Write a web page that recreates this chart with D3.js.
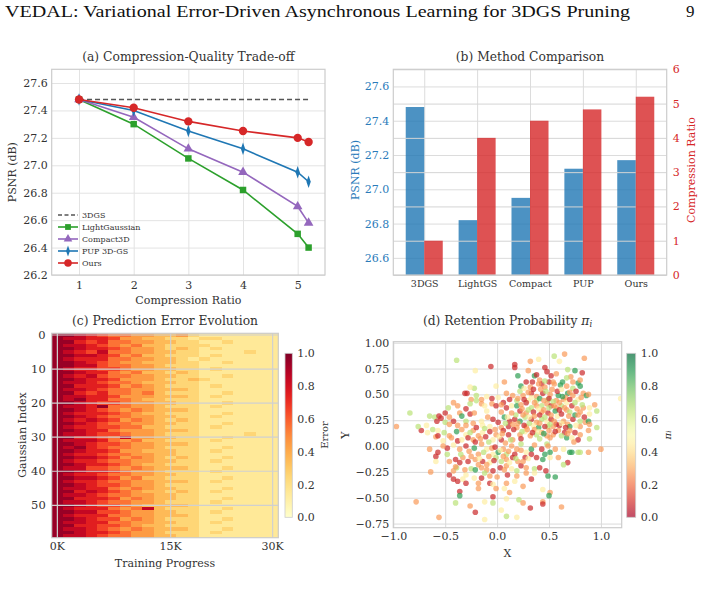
<!DOCTYPE html>
<html>
<head>
<meta charset="utf-8">
<script src="https://d3js.org/d3.v7.min.js"></script>
<title>VEDAL figure</title>
<style>
body { margin: 0; background: #fff; }
</style>
</head>
<body>
<div class="viz"></div>
<script type="text/javascript">
// ---- (a) compression-quality trade-off
var ratios = [1, 2, 3, 4, 5, 5.2];
var psnr3dgs = 27.48;
var psnrLight = [27.48, 27.30, 27.05, 26.82, 26.50, 26.40];
var psnrCompact = [27.48, 27.35, 27.12, 26.95, 26.70, 26.58];
var psnrPup = [27.48, 27.40, 27.25, 27.12, 26.95, 26.88];
var psnrOurs = [27.48, 27.42, 27.32, 27.25, 27.20, 27.17];
var aYTicks = [26.2, 26.4, 26.6, 26.8, 27.0, 27.2, 27.4, 27.6];
var aXTicks = [1, 2, 3, 4, 5];

// ---- (b) method comparison
var methods = ["3DGS", "LightGS", "Compact", "PUP", "Ours"];
var methodPsnr = [27.48, 26.82, 26.95, 27.12, 27.17];
var methodRatio = [1.0, 4.0, 4.5, 4.83, 5.2];
var bLeftTicks = [26.6, 26.8, 27.0, 27.2, 27.4, 27.6];
var bRightTicks = [0, 1, 2, 3, 4, 5, 6];

// ---- (c) prediction error, 60 gaussians x 20 steps, digit d -> (d+0.5)/10
var errorRows = [
"99876554433421111111","98877644332212211111","99767554433221121111","98876545332222111111",
"99877654432321211111","98768554433221111211","99887645332221211111","98777554433212111111",
"99876544333221121111","99886554432221111111","98776654433221211111","99877545332321111111",
"98786554433221121111","99877644432232111111","98876554333221111111","99777645432221211111",
"98876554433321111111","99767554532221121111","98877644433321211111","98977554332221111111",
"99876654433221121111","98879554432221211111","99876545433321111111","98777654332221121111",
"99876554433221211111","98787645432321111111","99876554433221121111","98776655332221211111",
"99877544433321111111","98876654432221111211","99776584433221121111","98887545332221211111",
"99876654433321111111","98976554432221121111","99877644333221211111","98776554433221111111",
"99887645432321121111","98776554433221211111","99877654332221111111","98866545433321121111",
"99877654432221211111","98776554433221111111","99887645332221121111","98776554433321211111",
"99876654432221111111","98877545433221121111","99787654332321211111","98876554433221111111",
"99777645433221121111","98876554432221211111","99876654333321111111","98777545832221121111",
"99886654433221211111","98777554433321111111","99876645432221121111","98877554433221211111",
"99776654332221111111","98876545433321121111","99877654432221211111","98876554433221111111"
];
var cXTickCols = [0, 10, 19];
var cXTickLabels = ["0K", "15K", "30K"];
var cYTicks = [0, 10, 20, 30, 40, 50];
var cbTicks = [0, 0.2, 0.4, 0.6, 0.8, 1.0];

// ---- (d) retention probability: [x, y, pi]
var retention = [
[-0.39,0.83,.66],[-0.21,0.73,.45],[-0.06,0.77,.08],[0.17,0.79,.08],[0.17,0.76,.08],[0.32,0.82,.27],
[0.40,0.84,.45],[0.55,0.87,.66],[0.60,0.82,.45],[0.65,0.89,.27],[0.84,0.85,.27],[0.46,0.76,.08],
[0.30,0.73,.27],[0.68,0.74,.66],[0.48,0.72,.08],[0.75,0.73,.88],
[0.20,0.68,.88],[0.36,0.68,.88],[0.38,0.69,.08],[0.52,0.68,.08],[0.57,0.70,.27],[0.82,0.71,.08],
[0.71,0.67,.27],[0.41,0.64,.27],[0.23,0.58,.88],[-0.01,0.58,.45],[0.07,0.62,.27],[0.32,0.57,.27],
[0.43,0.60,.08],[0.50,0.62,.08],[0.61,0.59,.88],[0.67,0.58,.27],[0.78,0.61,.88],[0.80,0.58,.88],
[0.80,0.64,.27],[0.67,0.66,.66],[0.54,0.62,.27],[0.28,0.62,.08],[0.46,0.57,.27],[0.73,0.56,.66],
[-0.22,0.56,.66],[-0.29,0.51,.08],[-0.31,0.51,.08],[-0.26,0.57,.45],[-0.20,0.49,.66],[-0.10,0.48,.45],
[-0.05,0.46,.08],[0.01,0.47,.45],[0.09,0.51,.27],[0.15,0.49,.27],[0.19,0.44,.66],[0.25,0.49,.27],
[0.33,0.51,.08],[0.38,0.48,.27],[0.44,0.51,.08],[0.51,0.50,.27],[0.59,0.49,.88],[0.68,0.51,.88],
[0.73,0.49,.27],[0.83,0.51,.27],[0.86,0.49,.88],[0.88,0.50,.27],[1.19,0.46,.45],[0.12,0.45,.08],
[0.22,0.53,.66],[0.49,0.45,.66],[0.64,0.45,.27],[0.57,0.44,.27],[0.78,0.45,.45],[0.38,0.44,.66],
[0.30,0.44,.45],[0.06,0.42,.08],[-0.15,0.45,.27],[-0.25,0.45,.27],[-0.20,0.44,.66],
[-0.50,0.32,.08],[-0.47,0.37,.66],[-0.42,0.42,.27],[-0.38,0.39,.27],[-0.30,0.36,.08],[-0.26,0.41,.66],
[-0.15,0.41,.27],[-0.12,0.39,.45],[-0.05,0.41,.27],[-0.01,0.39,.08],[0.04,0.40,.27],[0.09,0.37,.08],
[0.14,0.39,.45],[0.19,0.39,.88],[0.23,0.40,.27],[0.28,0.42,.08],[0.33,0.37,.66],[0.38,0.39,.27],
[0.43,0.39,.66],[0.48,0.41,.27],[0.52,0.39,.08],[0.57,0.37,.27],[0.62,0.39,.66],[0.67,0.42,.45],
[0.72,0.39,.08],[0.77,0.36,.27],[0.83,0.37,.27],[0.89,0.37,.45],[0.94,0.40,.27],[0.96,0.34,.66],
[-0.84,0.32,.66],[-0.60,0.28,.66],[-0.36,0.32,.27],[-0.26,0.31,.08],[-0.22,0.32,.27],[-0.10,0.34,.45],
[0.04,0.33,.27],[0.22,0.34,.08],[0.28,0.32,.27],[0.43,0.33,.27],[0.49,0.32,.08],[0.56,0.34,.88],
[0.67,0.35,.27],[0.80,0.33,.27],[0.89,0.31,.45],
[-0.97,0.19,.27],[-0.73,0.15,.08],[-0.68,0.20,.45],[-0.58,0.24,.08],[-0.54,0.27,.08],[-0.46,0.28,.27],
[-0.42,0.24,.08],[-0.34,0.29,.88],[-0.30,0.24,.66],[-0.23,0.22,.27],[-0.15,0.24,.45],[-0.09,0.28,.27],
[-0.04,0.26,.08],[0.01,0.23,.08],[0.07,0.28,.88],[0.12,0.24,.08],[0.17,0.26,.08],[0.22,0.24,.88],
[0.27,0.28,.66],[0.33,0.26,.08],[0.38,0.23,.27],[0.43,0.26,.66],[0.48,0.24,.45],[0.52,0.26,.08],
[0.57,0.21,.08],[0.64,0.24,.27],[0.68,0.21,.27],[0.73,0.26,.08],[0.80,0.24,.66],[0.85,0.23,.27],
[0.88,0.24,.88],[-0.65,0.29,.66],[-0.56,0.29,.08],[-0.50,0.23,.66],[-0.46,0.21,.27],[-0.38,0.20,.27],
[-0.14,0.20,.45],[-0.07,0.19,.45],[0.04,0.18,.27],[0.11,0.19,.08],[0.19,0.18,.27],[0.28,0.19,.27],
[0.35,0.20,.45],[0.40,0.18,.88],[0.49,0.19,.66],[0.54,0.19,.27],[0.60,0.20,.08],[0.70,0.19,.88],
[0.80,0.19,.27],[0.89,0.21,.27],
[-0.76,0.19,.66],[-0.67,0.13,.45],[-0.62,0.16,.66],[-0.57,0.15,.45],[-0.51,0.13,.66],[-0.46,0.10,.27],
[-0.39,0.14,.88],[-0.34,0.16,.27],[-0.30,0.11,.45],[-0.23,0.15,.27],[-0.18,0.10,.27],[-0.14,0.13,.45],
[-0.07,0.14,.08],[-0.01,0.11,.27],[0.06,0.15,.08],[0.11,0.11,.08],[0.16,0.16,.08],[0.22,0.11,.27],
[0.27,0.14,.45],[0.32,0.10,.27],[0.38,0.11,.66],[0.43,0.13,.27],[0.48,0.10,.27],[0.54,0.11,.27],
[0.59,0.15,.27],[0.65,0.13,.08],[0.70,0.15,.27],[0.75,0.13,.08],[0.80,0.11,.27],[0.88,0.15,.27],
[0.96,0.18,.66],[-0.28,0.08,.08],[-0.23,0.06,.27],[-0.38,0.05,.08],[-0.52,0.05,.45],[-0.59,0.09,.27],
[-0.04,0.06,.45],[0.04,0.06,.08],[0.15,0.06,.27],[0.23,0.07,.08],[0.41,0.07,.66],[0.51,0.08,.27],
[0.67,0.08,.88],[0.78,0.06,.08],[0.89,0.07,.66],[-0.57,0.10,.08],
[-0.65,-0.03,.27],[-0.57,-0.06,.08],[-0.48,-0.02,.08],[-0.42,0.01,.45],[-0.36,-0.03,.27],[-0.30,0.00,.08],
[-0.22,-0.02,.88],[-0.15,0.02,.27],[-0.10,-0.03,.45],[-0.05,-0.02,.27],[0.01,-0.06,.88],[0.06,-0.03,.27],
[0.09,-0.08,.66],[0.14,0.00,.27],[0.19,-0.03,.27],[0.23,0.02,.66],[0.33,-0.03,.88],[0.36,0.01,.27],
[0.43,-0.03,.08],[0.48,0.02,.66],[0.51,-0.06,.88],[0.56,-0.03,.27],[0.70,-0.06,.88],[0.78,-0.06,.66],
[0.88,-0.06,.27],[1.00,-0.03,.27],[0.49,0.00,.27],[0.64,-0.03,.45],[0.28,-0.06,.45],[-0.04,-0.08,.45],
[-0.18,-0.08,.27],
[-0.59,-0.10,.08],[-0.46,-0.15,.27],[-0.40,-0.13,.08],[-0.33,-0.11,.27],[-0.28,-0.15,.08],[-0.21,-0.13,.27],
[-0.14,-0.15,.08],[-0.07,-0.16,.45],[-0.01,-0.11,.66],[0.04,-0.15,.66],[0.09,-0.13,.27],[0.15,-0.11,.08],
[0.20,-0.15,.27],[0.27,-0.11,.08],[0.33,-0.08,.08],[0.38,-0.11,.08],[0.44,-0.13,.88],[0.51,-0.11,.45],
[0.59,-0.11,.27],[0.68,-0.16,.08],[0.72,-0.06,.88],[0.80,-0.06,.66],[0.64,-0.18,.66],[0.46,-0.08,.88],
[0.09,-0.19,.27],[-0.18,-0.18,.27],[-0.36,-0.16,.08],[-0.59,-0.15,.45],
[-0.64,-0.25,.27],[-0.46,-0.28,.08],[-0.42,-0.24,.27],[-0.39,-0.21,.66],[-0.31,-0.23,.27],[-0.25,-0.22,.66],
[-0.21,-0.23,.88],[-0.15,-0.21,.27],[-0.10,-0.23,.27],[-0.04,-0.24,.08],[0.03,-0.21,.08],[0.07,-0.23,.27],
[0.14,-0.22,.45],[0.19,-0.24,.66],[0.23,-0.19,.08],[0.28,-0.21,.27],[0.36,-0.22,.66],[0.41,-0.21,.08],
[0.47,-0.24,.08],[0.36,-0.26,.45],[0.28,-0.26,.27],[0.19,-0.29,.27],[-0.07,-0.29,.27],[-0.22,-0.31,.45],
[-0.42,-0.32,.08],[-0.38,-0.34,.08],[-0.33,-0.32,.45],[-0.30,-0.36,.08],[-0.18,-0.36,.27],[-0.15,-0.31,.08],
[-0.07,-0.36,.08],[-0.04,-0.37,.45],[0.09,-0.36,.27],[0.17,-0.34,.45],[0.25,-0.39,.27],[0.33,-0.32,.08],
[0.49,-0.29,.88],[0.56,-0.30,.88],[0.07,-0.41,.45],[-0.01,-0.41,.27],[-0.18,-0.41,.27],[-0.36,-0.44,.08],
[0.44,-0.42,.45],[0.51,-0.45,.27],
[-0.78,-0.54,.27],[-0.40,-0.55,.66],[-0.36,-0.48,.88],[-0.26,-0.58,.27],[-0.21,-0.64,.08],[-0.12,-0.54,.45],
[-0.04,-0.55,.66],[-0.04,-0.49,.08],[0.09,-0.51,.45],[0.12,-0.45,.27],[0.21,-0.52,.66],[0.25,-0.55,.27],
[0.32,-0.60,.08],[0.44,-0.54,.27],[0.44,-0.56,.08],[0.50,-0.48,.88],[0.62,-0.59,.27],[0.04,-0.62,.45],
[-0.56,-0.69,.27],[-0.12,-0.71,.45],[0.09,-0.68,.66],[0.19,-0.69,.45],
[0.30,0.52,.27],[0.35,0.55,.08],[0.42,0.55,.27],[0.47,0.53,.66],[0.53,0.55,.27],[0.58,0.53,.08],
[0.62,0.55,.45],[0.66,0.47,.27],[0.70,0.45,.08],[0.75,0.42,.66],[0.26,0.45,.08],[0.33,0.47,.45],
[0.36,0.42,.27],[0.41,0.46,.88],[0.45,0.44,.27],[0.50,0.46,.08],[0.54,0.43,.66],[0.60,0.42,.27],
[0.63,0.48,.88],[0.70,0.52,.27],[0.24,0.36,.27],[0.30,0.35,.66],[0.35,0.33,.08],[0.40,0.36,.45],
[0.45,0.35,.27],[0.50,0.37,.66],[0.55,0.39,.27],[0.60,0.35,.08],[0.65,0.37,.27],[0.70,0.33,.66],
[0.25,0.30,.27],[0.31,0.28,.45],[0.36,0.29,.27],[0.41,0.30,.08],[0.46,0.28,.66],[0.52,0.30,.27],
[0.58,0.29,.45],[0.62,0.31,.08],[0.69,0.29,.27],[0.75,0.30,.88],[0.20,0.22,.27],[0.26,0.20,.08],
[0.31,0.22,.66],[0.36,0.16,.27],[0.41,0.22,.27],[0.46,0.19,.08],[0.51,0.21,.66],[0.55,0.24,.27],
[0.62,0.22,.45],[0.66,0.18,.08],[0.24,0.14,.66],[0.29,0.16,.27],[0.34,0.13,.08],[0.40,0.14,.45],
[0.45,0.12,.88],[0.50,0.15,.27],[0.56,0.14,.08],[0.62,0.10,.66],[0.68,0.12,.27],[0.72,0.08,.45],
[0.18,0.30,.66],[0.14,0.32,.27],[0.10,0.28,.45],[0.15,0.21,.27],[0.08,0.22,.66],[0.20,0.46,.27],
[0.26,0.56,.45],[0.46,0.63,.66],[0.40,0.60,.27],[0.34,0.62,.08],[0.55,0.60,.27],[0.63,0.62,.88],
[0.73,0.62,.27],[0.76,0.53,.08],[0.81,0.47,.27],[0.82,0.40,.66],[0.78,0.30,.27],[0.84,0.28,.08],
[0.76,0.20,.45],[0.74,0.04,.27],
[-0.30,0.20,.27],[-0.26,0.13,.66],[-0.20,0.18,.08],[-0.16,0.07,.27],[-0.11,0.09,.08],[-0.08,0.04,.66],
[-0.02,0.16,.27],[0.02,0.09,.45],[0.08,0.03,.27],[0.13,0.06,.66],[-0.34,0.06,.45],[-0.27,-0.05,.27],
[-0.21,0.04,.08],[-0.13,-0.06,.66],[-0.08,-0.10,.27],[-0.02,-0.01,.08],[0.03,-0.04,.45],[0.11,-0.05,.27],
[0.17,-0.08,.08],[0.23,-0.04,.27],[-0.35,-0.08,.66],[-0.25,-0.10,.27],[-0.17,-0.12,.45],[-0.10,-0.18,.27],
[-0.03,-0.14,.08],[0.06,-0.10,.27],[0.12,-0.16,.45],[0.18,-0.12,.66],[0.25,-0.15,.27],[0.30,-0.12,.45],
[-0.44,0.08,.27],[-0.48,-0.08,.66],[-0.52,0.00,.27],[-0.40,-0.20,.27],[-0.30,-0.28,.45],[-0.12,-0.26,.66],
[0.00,-0.30,.27],[0.10,-0.28,.08],[0.05,0.12,.27],[-0.12,0.17,.66]
];
var dXTicks = [-1.0, -0.5, 0.0, 0.5, 1.0];
var dYTicks = [-0.75, -0.5, -0.25, 0, 0.25, 0.5, 0.75, 1.0];

var textCol = "#333";
var gridCol = "#e3e3e3";
var spineCol = "#cccccc";
var serif = "'DejaVu Serif', serif";

var svg = d3.select(".viz").append("svg")
    .attr("width", 702).attr("height", 600)
    .style("font-family", serif);

svg.append("text").attr("x", 5).attr("y", 17)
    .attr("textLength", 625).attr("lengthAdjust", "spacingAndGlyphs")
    .style("font-family", "'Liberation Serif', serif").style("font-size", "17px")
    .attr("fill", "#111")
    .text("VEDAL: Variational Error-Driven Asynchronous Learning for 3DGS Pruning");
svg.append("text").attr("x", 686).attr("y", 17)
    .style("font-family", "'Liberation Serif', serif").style("font-size", "17px")
    .attr("fill", "#111").text("9");

// helpers
function gridOnly(g, col) {
    g.select(".domain").remove();
    g.selectAll(".tick line").attr("stroke", col || gridCol).attr("stroke-width", 1);
    g.selectAll("text").remove();
}
function labelsOnly(g, col, size) {
    g.select(".domain").remove();
    g.selectAll(".tick line").remove();
    g.attr("font-family", serif).attr("font-size", size || 11);
    g.selectAll("text").attr("fill", col || textCol);
}
function frame(g, box) {
    g.append("rect").attr("x", box.l).attr("y", box.t)
        .attr("width", box.r - box.l).attr("height", box.b - box.t)
        .attr("fill", "none").attr("stroke", spineCol).attr("stroke-width", 1.2);
}
function title(g, x, y, txt) {
    return g.append("text").attr("x", x).attr("y", y).attr("text-anchor", "middle")
        .attr("fill", textCol).style("font-size", "12.3px").text(txt);
}
function vLabel(g, x, y, txt, col) {
    return g.append("text").attr("transform", "translate(" + x + "," + y + ") rotate(-90)")
        .attr("text-anchor", "middle").attr("dominant-baseline", "central")
        .attr("fill", col || textCol).style("font-size", "11px").text(txt);
}

// ================= (a)
var a = {l: 51.7, r: 325, t: 69.3, b: 275};
var xA = d3.scaleLinear().domain([0.5, 5.5]).range([a.l, a.r]);
var yA = d3.scaleLinear().domain([26.2, 27.7]).range([a.b, a.t]);
var gA = svg.append("g");

gA.append("g").attr("transform", "translate(0," + a.b + ")")
    .call(d3.axisBottom(xA).tickValues(aXTicks).tickSize(-(a.b - a.t)).tickFormat(""))
    .call(gridOnly);
gA.append("g").attr("transform", "translate(" + a.l + ",0)")
    .call(d3.axisLeft(yA).tickValues(aYTicks).tickSize(-(a.r - a.l)).tickFormat(""))
    .call(gridOnly);
frame(gA, a);
gA.append("g").attr("transform", "translate(0," + a.b + ")")
    .call(d3.axisBottom(xA).tickValues(aXTicks).tickSize(0).tickPadding(6).tickFormat(d3.format("d")))
    .call(labelsOnly);
gA.append("g").attr("transform", "translate(" + a.l + ",0)")
    .call(d3.axisLeft(yA).tickValues(aYTicks).tickSize(0).tickPadding(4).tickFormat(d3.format(".1f")))
    .call(labelsOnly);

var seriesA = [
    {name: "LightGaussian", vals: psnrLight, color: "#2ca02c", sym: d3.symbolSquare, size: 42, sx: 1},
    {name: "Compact3D", vals: psnrCompact, color: "#9467bd", sym: d3.symbolTriangle, size: 40, sx: 1},
    {name: "PUP 3D-GS", vals: psnrPup, color: "#1f77b4", sym: d3.symbolDiamond, size: 45, sx: 0.6},
    {name: "Ours", vals: psnrOurs, color: "#d62728", sym: d3.symbolCircle, size: 55, sx: 1}
];

gA.append("line")
    .attr("x1", xA(ratios[0])).attr("x2", xA(ratios[ratios.length - 1]))
    .attr("y1", yA(psnr3dgs)).attr("y2", yA(psnr3dgs))
    .attr("stroke", "#555").attr("stroke-width", 1.4).attr("stroke-dasharray", "5,3");

var line = d3.line().x(function(d, i) { return xA(ratios[i]); }).y(function(d) { return yA(d); });
seriesA.forEach(function(s) {
    gA.append("path").datum(s.vals).attr("d", line)
        .attr("fill", "none").attr("stroke", s.color).attr("stroke-width", 1.6);
    gA.selectAll(null).data(s.vals).enter().append("path")
        .attr("d", d3.symbol().type(s.sym).size(s.size))
        .attr("transform", function(d, i) { return "translate(" + xA(ratios[i]) + "," + yA(d) + ") scale(" + s.sx + ",1)"; })
        .attr("fill", s.color);
});

title(gA, (a.l + a.r) / 2, 61, "(a) Compression-Quality Trade-off");
vLabel(gA, 12, (a.t + a.b) / 2, "PSNR (dB)");
gA.append("text").attr("x", (a.l + a.r) / 2).attr("y", 304).attr("text-anchor", "middle")
    .attr("fill", textCol).style("font-size", "11px").text("Compression Ratio");

// legend
var legA = gA.append("g").attr("transform", "translate(58,215)");
var legItems = [{name: "3DGS", dash: true, color: "#555"}].concat(seriesA);
legItems.forEach(function(s, i) {
    var row = legA.append("g").attr("transform", "translate(0," + (i * 12) + ")");
    row.append("line").attr("x1", 0).attr("x2", 20).attr("y1", 0).attr("y2", 0)
        .attr("stroke", s.color).attr("stroke-width", s.dash ? 1.3 : 1.6)
        .attr("stroke-dasharray", s.dash ? "4,2.5" : null);
    if (!s.dash) {
        row.append("path").attr("d", d3.symbol().type(s.sym).size(s.size * 0.8))
            .attr("transform", "translate(10,0) scale(" + s.sx + ",1)").attr("fill", s.color);
    }
    row.append("text").attr("x", 24).attr("y", 0).attr("dy", "0.35em")
        .attr("fill", textCol).style("font-size", "8px").text(s.name);
});

// ================= (b)
var bx = {l: 393.3, r: 666.7, t: 69.3, b: 275};
var xB = d3.scaleLinear().domain([-0.585, 4.585]).range([bx.l, bx.r]);
var yB = d3.scaleLinear().domain([26.5, 27.7]).range([bx.b, bx.t]);
var yB2 = d3.scaleLinear().domain([0, 6]).range([bx.b, bx.t]);
var barW = 0.35;
var gB = svg.append("g");

gB.append("g").attr("transform", "translate(0," + bx.b + ")")
    .call(d3.axisBottom(xB).tickValues(d3.range(methods.length)).tickSize(-(bx.b - bx.t)).tickFormat(""))
    .call(gridOnly, "#dcdcdc");
gB.append("g").attr("transform", "translate(" + bx.l + ",0)")
    .call(d3.axisLeft(yB).tickValues(bLeftTicks).tickSize(-(bx.r - bx.l)).tickFormat(""))
    .call(gridOnly, "#dcdcdc");

gB.selectAll(".barp").data(methodPsnr).enter().append("rect")
    .attr("x", function(d, i) { return xB(i - barW); })
    .attr("width", xB(barW) - xB(0))
    .attr("y", function(d) { return yB(d); })
    .attr("height", function(d) { return bx.b - yB(d); })
    .attr("fill", "#1f77b4").attr("fill-opacity", 0.8);

gB.append("g").attr("transform", "translate(" + bx.r + ",0)")
    .call(d3.axisRight(yB2).tickValues(bRightTicks).tickSize(-(bx.r - bx.l)).tickFormat(""))
    .call(gridOnly, "#d4d4d4");

gB.selectAll(".barr").data(methodRatio).enter().append("rect")
    .attr("x", function(d, i) { return xB(i); })
    .attr("width", xB(barW) - xB(0))
    .attr("y", function(d) { return yB2(d); })
    .attr("height", function(d) { return bx.b - yB2(d); })
    .attr("fill", "#d62728").attr("fill-opacity", 0.8);

frame(gB, bx);
gB.append("g").attr("transform", "translate(0," + bx.b + ")")
    .call(d3.axisBottom(xB).tickValues(d3.range(methods.length)).tickSize(0).tickPadding(5)
        .tickFormat(function(i) { return methods[i]; }))
    .call(labelsOnly, textCol, 9.5);
gB.append("g").attr("transform", "translate(" + bx.l + ",0)")
    .call(d3.axisLeft(yB).tickValues(bLeftTicks).tickSize(0).tickPadding(4).tickFormat(d3.format(".1f")))
    .call(labelsOnly, "#2b7bba");
gB.append("g").attr("transform", "translate(" + bx.r + ",0)")
    .call(d3.axisRight(yB2).tickValues(bRightTicks).tickSize(0).tickPadding(6).tickFormat(d3.format("d")))
    .call(labelsOnly, "#d62728");

title(gB, (bx.l + bx.r) / 2, 61, "(b) Method Comparison");
vLabel(gB, 355, 170, "PSNR (dB)", "#2b7bba");
vLabel(gB, 691, 170, "Compression Ratio", "#d62728");

// ================= (c)
var c = {l: 51.7, r: 278.3, t: 333.3, b: 537.7};
var nCols = errorRows[0].length;
var xC = d3.scaleBand().domain(d3.range(nCols)).range([c.l, c.r]);
var yC = d3.scaleBand().domain(d3.range(errorRows.length)).range([c.t, c.b]);
var errColor = d3.scaleSequential(d3.interpolateYlOrRd).domain([0, 1]);
var gC = svg.append("g");

var cells = [];
errorRows.forEach(function(row, r) {
    row.split("").forEach(function(ch, k) {
        cells.push({r: r, k: k, v: (+ch + 0.5) / 10});
    });
});
gC.selectAll(".cell").data(cells).enter().append("rect")
    .attr("x", function(d) { return xC(d.k); })
    .attr("y", function(d) { return yC(d.r); })
    .attr("width", xC.bandwidth() + 0.3)
    .attr("height", yC.bandwidth() + 0.3)
    .attr("fill", function(d) { return errColor(d.v); })
    .attr("shape-rendering", "crispEdges");

gC.selectAll(".gx").data(cXTickCols).enter().append("line")
    .attr("x1", function(d) { return xC(d) + xC.bandwidth() / 2; })
    .attr("x2", function(d) { return xC(d) + xC.bandwidth() / 2; })
    .attr("y1", c.t).attr("y2", c.b)
    .attr("stroke", "#d0d0d0").attr("stroke-width", 1.2);
gC.selectAll(".gy").data(cYTicks).enter().append("line")
    .attr("y1", function(d) { return yC(d) + yC.bandwidth() / 2; })
    .attr("y2", function(d) { return yC(d) + yC.bandwidth() / 2; })
    .attr("x1", c.l).attr("x2", c.r)
    .attr("stroke", "#d0d0d0").attr("stroke-width", 1.2);
frame(gC, c);

gC.append("g").attr("transform", "translate(0," + c.b + ")")
    .call(d3.axisBottom(xC).tickValues(cXTickCols).tickSize(0).tickPadding(5)
        .tickFormat(function(d, i) { return cXTickLabels[i]; }))
    .call(labelsOnly);
gC.append("g").attr("transform", "translate(" + c.l + ",0)")
    .call(d3.axisLeft(yC).tickValues(cYTicks).tickSize(0).tickPadding(6))
    .call(labelsOnly, textCol, 11.5);

title(gC, (c.l + c.r) / 2, 324.5, "(c) Prediction Error Evolution");
vLabel(gC, 22, 435, "Gaussian Index");
gC.append("text").attr("x", (c.l + c.r) / 2).attr("y", 567).attr("text-anchor", "middle")
    .attr("fill", textCol).style("font-size", "11px").text("Training Progress");

// colorbar (c)
var cb = {l: 285, r: 292.3, t: 353.3, b: 517.3};
var defs = svg.append("defs");
var gradC = defs.append("linearGradient").attr("id", "gradC")
    .attr("x1", 0).attr("x2", 0).attr("y1", 1).attr("y2", 0);
d3.range(0, 1.001, 0.05).forEach(function(t) {
    gradC.append("stop").attr("offset", t).attr("stop-color", errColor(t));
});
gC.append("rect").attr("x", cb.l).attr("y", cb.t).attr("width", cb.r - cb.l).attr("height", cb.b - cb.t)
    .attr("fill", "url(#gradC)").attr("stroke", spineCol).attr("stroke-width", 0.8);
var yCb = d3.scaleLinear().domain([0, 1]).range([cb.b, cb.t]);
gC.append("g").attr("transform", "translate(" + cb.r + ",0)")
    .call(d3.axisRight(yCb).tickValues(cbTicks).tickSize(0).tickPadding(5).tickFormat(d3.format(".1f")))
    .call(labelsOnly);
vLabel(gC, 324, 435, "Error").style("font-size", "10px");

// ================= (d)
var dd = {l: 393.3, r: 621.7, t: 341.7, b: 527.7};
var xD = d3.scaleLinear().domain([-1.0, 1.2]).range([dd.l, dd.r]);
var yD = d3.scaleLinear().domain([-0.79, 1.01]).range([dd.b, dd.t]);
var retColor = d3.scaleSequential(d3.interpolateRdYlGn).domain([0, 1]);
var gD = svg.append("g");

gD.append("g").attr("transform", "translate(0," + dd.b + ")")
    .call(d3.axisBottom(xD).tickValues(dXTicks).tickSize(-(dd.b - dd.t)).tickFormat(""))
    .call(gridOnly, "#dadada");
gD.append("g").attr("transform", "translate(" + dd.l + ",0)")
    .call(d3.axisLeft(yD).tickValues(dYTicks).tickSize(-(dd.r - dd.l)).tickFormat(""))
    .call(gridOnly, "#dadada");

defs.append("clipPath").attr("id", "clipD").append("rect")
    .attr("x", dd.l).attr("y", dd.t).attr("width", dd.r - dd.l).attr("height", dd.b - dd.t);
gD.append("g").attr("clip-path", "url(#clipD)")
    .selectAll("circle").data(retention).enter().append("circle")
    .attr("cx", function(d) { return xD(d[0]); })
    .attr("cy", function(d) { return yD(d[1]); })
    .attr("r", 2.8)
    .attr("fill", function(d) { return retColor(d[2]); })
    .attr("fill-opacity", 0.7);
frame(gD, dd);

gD.append("g").attr("transform", "translate(0," + dd.b + ")")
    .call(d3.axisBottom(xD).tickValues(dXTicks).tickSize(0).tickPadding(5).tickFormat(d3.format(".1f")))
    .call(labelsOnly);
gD.append("g").attr("transform", "translate(" + dd.l + ",0)")
    .call(d3.axisLeft(yD).tickValues(dYTicks).tickSize(0).tickPadding(4).tickFormat(d3.format(".2f")))
    .call(labelsOnly);

var tD = title(gD, (dd.l + dd.r) / 2, 324.5, "(d) Retention Probability ");
tD.append("tspan").style("font-style", "italic").text("\u03c0");
tD.append("tspan").style("font-style", "italic").style("font-size", "8.5px").attr("dy", 2.5).text("i");
gD.append("text").attr("x", (dd.l + dd.r) / 2).attr("y", 557).attr("text-anchor", "middle")
    .attr("fill", textCol).style("font-size", "11px").text("X");
vLabel(gD, 345, 435, "Y");

// colorbar (d)
var cbd = {l: 626.7, r: 635.7, t: 353.3, b: 517.3};
var gradD = defs.append("linearGradient").attr("id", "gradD")
    .attr("x1", 0).attr("x2", 0).attr("y1", 1).attr("y2", 0);
d3.range(0, 1.001, 0.05).forEach(function(t) {
    gradD.append("stop").attr("offset", t).attr("stop-color", retColor(t)).attr("stop-opacity", 0.7);
});
gD.append("rect").attr("x", cbd.l).attr("y", cbd.t).attr("width", cbd.r - cbd.l).attr("height", cbd.b - cbd.t)
    .attr("fill", "url(#gradD)").attr("stroke", spineCol).attr("stroke-width", 0.8);
var yCbd = d3.scaleLinear().domain([0, 1]).range([cbd.b, cbd.t]);
gD.append("g").attr("transform", "translate(" + cbd.r + ",0)")
    .call(d3.axisRight(yCbd).tickValues(cbTicks).tickSize(0).tickPadding(5).tickFormat(d3.format(".1f")))
    .call(labelsOnly);
var piLab = vLabel(gD, 667, 435, "").style("font-style", "italic").style("font-size", "10px");
piLab.append("tspan").text("\u03c0");
piLab.append("tspan").style("font-size", "7px").attr("dy", 2).text("i");
</script>
</body>
</html>
